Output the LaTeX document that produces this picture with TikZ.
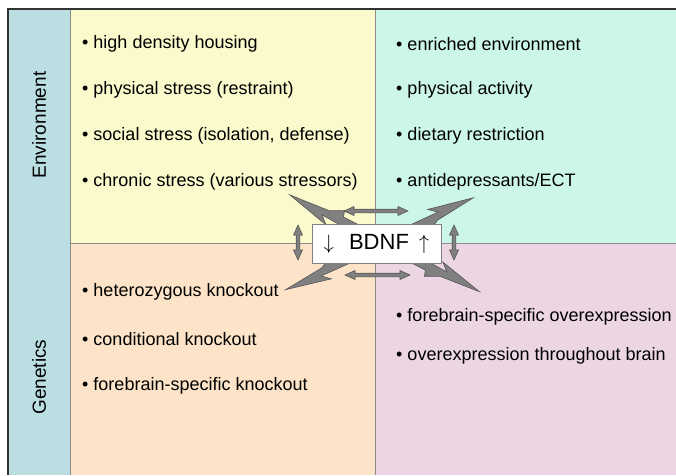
\documentclass[tikz,border=0pt]{standalone}
\usepackage{fontspec}
\setmainfont{Liberation Sans}
\usetikzlibrary{positioning}

\definecolor{colblue}{RGB}{187,222,227}
\definecolor{colyellow}{RGB}{250,250,205}
\definecolor{colmint}{RGB}{204,246,232}
\definecolor{colpeach}{RGB}{253,228,200}
\definecolor{colpink}{RGB}{236,214,228}
\definecolor{arrowgray}{RGB}{128,128,128}
\definecolor{arrowedge}{RGB}{85,85,85}

\begin{document}
\begin{tikzpicture}[
  x=1pt, y=1pt,
  item/.style={anchor=west, inner sep=0pt, font=\fontsize{18}{20}\selectfont},
  side/.style={rotate=90, inner sep=0pt, font=\fontsize{19}{21}\selectfont},
  divider/.style={draw=gray!90, line width=0.8pt},
  frame/.style={draw=black!80, line width=1.5pt},
  arrowbody/.style={fill=arrowgray, draw=arrowedge, line width=0.6pt, line join=miter},
  pics/twoway/.style={code={
    \filldraw[arrowbody] (0,0) -- (10,4.5) -- (10,1.8) -- (#1-10,1.8) -- (#1-10,4.5)
      -- (#1,0) -- (#1-10,-4.5) -- (#1-10,-1.8) -- (10,-1.8) -- (10,-4.5) -- cycle;}},
  pics/bolt/.style={code={
    \filldraw[arrowbody] (0,5) -- (#1-38,3) -- (#1-46,10) -- (#1,0) -- (#1-42,-4)
      -- (#1-56,-11) -- (#1-58,-5) -- (0,-5) -- cycle;}}
]
\useasboundingbox (0,0) rectangle (676,475);

\fill[colblue] (8,0) rectangle (70,466);
\fill[colyellow] (70,232) rectangle (375,466);
\fill[colmint] (375,232) rectangle (676,466);
\fill[colpeach] (70,0) rectangle (375,232);
\fill[colpink] (375,0) rectangle (676,232);

\draw[divider] (70,0) -- (70,466);
\draw[divider] (375,0) -- (375,466);
\draw[divider] (70,232) -- (676,232);
\draw[frame] (8,0) -- (8,466) -- (676,466);

\node[side] (env) at (39,350) {Environment};
\node[side] (gen) at (39,98) {Genetics};

\node[item] (e1) at (82,431) {• high density housing};
\node[item, below=46pt of e1.west, anchor=west] (e2) {• physical stress (restraint)};
\node[item, below=46pt of e2.west, anchor=west] (e3) {• social stress (isolation, defense)};
\node[item, below=46pt of e3.west, anchor=west] (e4) {• chronic stress (various stressors)};

\node[item] (p1) at (396,431) {• enriched environment};
\node[item, below=46pt of p1.west, anchor=west] (p2) {• physical activity};
\node[item, below=46pt of p2.west, anchor=west] (p3) {• dietary restriction};
\node[item, below=46pt of p3.west, anchor=west] (p4) {• antidepressants/ECT};

\node[item] (k1) at (82,183) {• heterozygous knockout};
\node[item, below=47pt of k1.west, anchor=west] (k2) {• conditional knockout};
\node[item, below=47pt of k2.west, anchor=west] (k3) {• forebrain-specific knockout};

\node[item] (o1) at (396,158) {• forebrain-specific overexpression};
\node[item, below=39pt of o1.west, anchor=west] (o2) {• overexpression throughout brain};

\coordinate (ctr) at (383,232);
\pic[rotate=152.7] at (ctr) {bolt=105};
\pic[rotate=26.6] at (ctr) {bolt=101};
\pic[rotate=205.6] at (ctr) {bolt=108};
\pic[rotate=-26.8] at (ctr) {bolt=108};

\pic at (344,264) {twoway=64};
\pic at (345,200) {twoway=65};
\pic[rotate=90] at (298,215) {twoway=35};
\pic[rotate=90] at (454,215) {twoway=35};

\node[draw=gray, fill=white, line width=0.8pt, minimum width=129pt, minimum height=39pt,
  inner sep=0pt, font=\fontsize{22}{24}\selectfont] (bdnf) at (376.5,231.5)
  {$\downarrow$\hspace{15pt}BDNF\hspace{10pt}$\uparrow$};
\end{tikzpicture}
\end{document}
